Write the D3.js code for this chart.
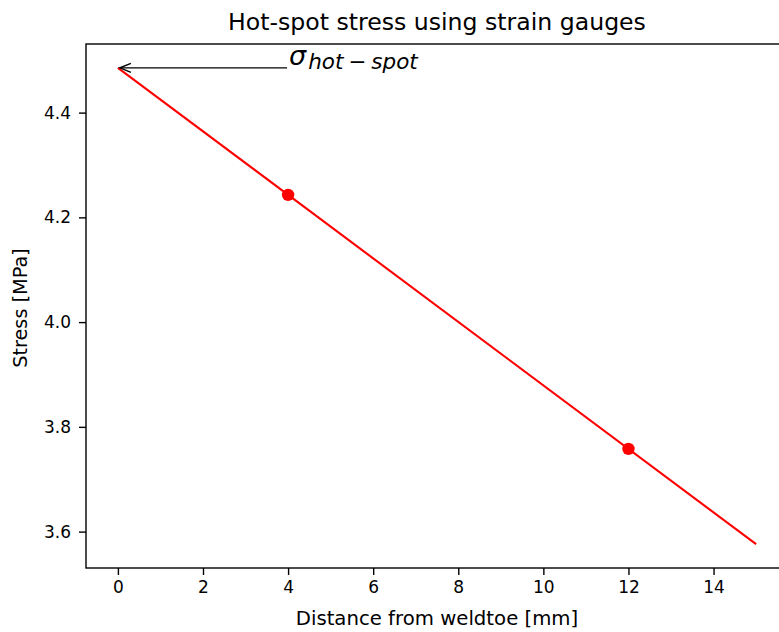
<!DOCTYPE html>
<html><head><meta charset="utf-8">
<script src="https://cdn.jsdelivr.net/npm/d3@7"></script>
<style>
html,body{margin:0;padding:0;background:#fff;overflow:hidden;}
text{font-family:"DejaVu Sans",sans-serif;fill:#000;}
</style></head>
<body>
<svg id="chart" width="779" height="632"></svg>
<script>
// ---- data ----
const gaugeDistance = [4, 12];            // mm
const gaugeStress = [4.243, 3.758];       // MPa
const fitDistance = [0, 15];              // mm (extrapolated line endpoints)
const fitStress = [4.4855, 3.576];        // MPa
const xTicks = [0, 2, 4, 6, 8, 10, 12, 14];
const yTicks = [3.6, 3.8, 4.0, 4.2, 4.4];
const hotSpot = {x: 0, y: 4.4855};
const titleText = "Hot-spot stress using strain gauges";
const xLabel = "Distance from weldtoe [mm]";
const yLabel = "Stress [MPa]";

const svg = d3.select("#chart");
const mL = 86, mT = 44, mR = 788, mB = 568;

const x = d3.scaleLinear().domain([-0.75, 15.75]).range([mL, mR]);
const y = d3.scaleLinear().domain([3.5305, 4.531]).range([mB, mT]);

// axes
const xAxis = d3.axisBottom(x).tickValues(xTicks).tickFormat(d3.format("d")).tickSizeOuter(0).tickSize(7).tickPadding(6);
const yAxis = d3.axisLeft(y).tickValues(yTicks).tickFormat(d3.format(".1f")).tickSizeOuter(0).tickSize(7).tickPadding(8);

const gx = svg.append("g").attr("transform", `translate(0,${mB})`).call(xAxis);
const gy = svg.append("g").attr("transform", `translate(${mL},0)`).call(yAxis);
[gx, gy].forEach(g => {
  g.select(".domain").remove();
  g.selectAll(".tick line").attr("stroke", "#000").attr("stroke-width", 1.4);
  g.selectAll(".tick text").attr("font-family", "DejaVu Sans").attr("font-size", 17).attr("fill", "#222");
});

// spines
svg.append("rect").attr("x", mL).attr("y", mT).attr("width", mR - mL).attr("height", mB - mT)
  .attr("fill", "none").attr("stroke", "#000").attr("stroke-width", 1.4);

// fitted line
const line = d3.line().x((d, i) => x(fitDistance[i])).y((d, i) => y(fitStress[i]));
svg.append("path").datum(fitDistance).attr("d", line).attr("fill", "none")
  .attr("stroke", "#ff0000").attr("stroke-width", 2.1);

// gauge points
svg.selectAll("circle.pt").data(gaugeDistance).join("circle").attr("class", "pt")
  .attr("cx", d => x(d)).attr("cy", (d, i) => y(gaugeStress[i])).attr("r", 6.2).attr("fill", "#ff0000");

// annotation arrow
const ay = y(hotSpot.y);
const tipX = x(hotSpot.x) + 2;
svg.append("line").attr("x1", 287).attr("y1", ay).attr("x2", tipX).attr("y2", ay)
  .attr("stroke", "#000").attr("stroke-width", 1.4);
svg.append("path").attr("d", `M${tipX + 11},${ay - 4.5} L${tipX},${ay} L${tipX + 11},${ay + 4.5}`)
  .attr("fill", "none").attr("stroke", "#000").attr("stroke-width", 1.4);

const ann = svg.append("text").attr("x", 289).attr("y", 65).attr("font-family", "DejaVu Sans").attr("fill", "#111");
ann.append("tspan").attr("font-size", 27).attr("font-style", "italic").text("σ");
ann.append("tspan").attr("font-size", 21.5).attr("font-style", "italic").attr("dy", 3.5).attr("dx", 2).text("hot");
ann.append("tspan").attr("font-size", 21.5).attr("dx", 5).text("−");
ann.append("tspan").attr("font-size", 21.5).attr("font-style", "italic").attr("dx", 5).text("spot");

// title & labels
svg.append("text").attr("x", (mL + mR) / 2).attr("y", 30).attr("text-anchor", "middle")
  .attr("font-size", 23.6).attr("fill", "#000").text(titleText);
svg.append("text").attr("x", (mL + mR) / 2).attr("y", 625).attr("text-anchor", "middle")
  .attr("font-size", 19.7).attr("fill", "#222").text(xLabel);
svg.append("text").attr("transform", `translate(27,${(mT + mB) / 2 + 2}) rotate(-90)`).attr("text-anchor", "middle")
  .attr("font-size", 19.3).attr("fill", "#222").text(yLabel);
</script>
</body></html>
